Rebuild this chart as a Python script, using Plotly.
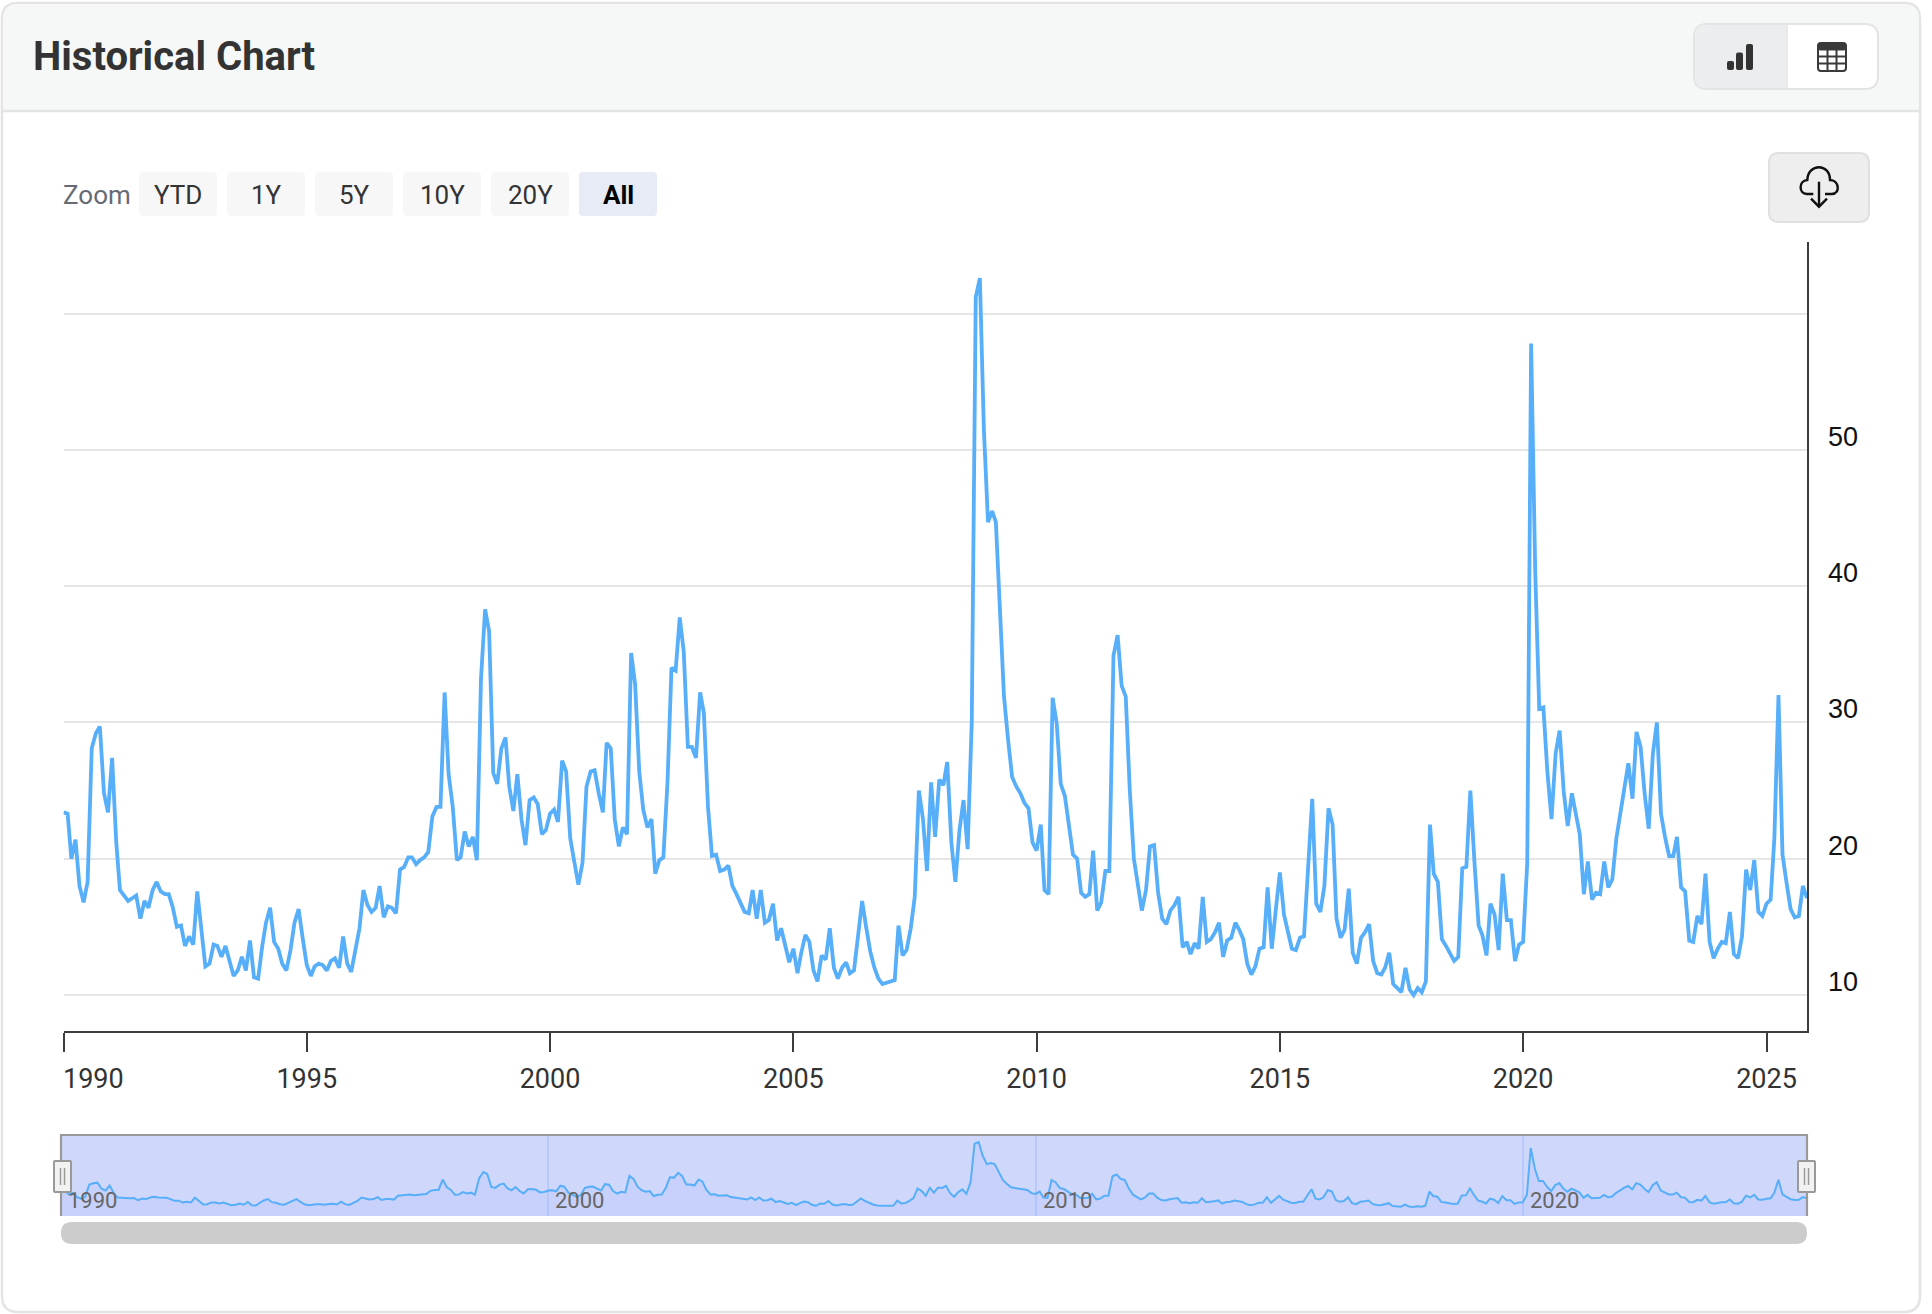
import pandas as pd
import plotly.graph_objects as go

W = 1932
H = 1314

# monthly values
y1990 = [23.4, 23.3, 20.0, 21.4, 18.0, 16.8, 18.3, 28.1, 29.2, 29.7, 24.8, 23.4]
y1991 = [27.4, 21.2, 17.7, 17.3, 16.9, 17.1, 17.3, 15.6, 16.9, 16.4, 17.7, 18.3]
y1992 = [17.6, 17.4, 17.4, 16.4, 15.0, 15.1, 13.6, 14.3, 13.7, 17.6, 14.5, 12.1]
y1993 = [12.3, 13.7, 13.6, 12.8, 13.6, 12.5, 11.4, 11.8, 12.8, 11.8, 14.0, 11.3]
y1994 = [11.2, 13.6, 15.3, 16.4, 13.9, 13.4, 12.3, 11.8, 13.3, 15.3, 16.3, 14.2]
y1995 = [12.2, 11.4, 12.1, 12.3, 12.2, 11.8, 12.5, 12.7, 12.0, 14.3, 12.3, 11.7]
y1996 = [13.3, 14.9, 17.7, 16.6, 16.1, 16.4, 18.0, 15.7, 16.5, 16.4, 16.0, 19.2]
y1997 = [19.4, 20.1, 20.1, 19.6, 19.9, 20.1, 20.5, 23.1, 23.8, 23.8, 32.2, 26.2]
y1998 = [23.8, 19.9, 20.1, 22.0, 20.9, 21.6, 19.9, 33.2, 38.3, 36.7, 26.3, 25.5]
y1999 = [28.1, 28.9, 25.3, 23.5, 26.2, 22.9, 21.0, 24.3, 24.5, 24.0, 21.8, 22.1]
y2000 = [23.3, 23.6, 22.7, 27.2, 26.4, 21.5, 19.8, 18.1, 19.7, 25.3, 26.4, 26.5]
y2001 = [24.8, 23.4, 28.5, 28.1, 22.9, 20.9, 22.3, 21.8, 35.1, 32.8, 26.4, 23.6]
y2002 = [22.3, 22.9, 18.9, 19.9, 20.1, 25.6, 34.0, 33.8, 37.7, 35.2, 28.2, 28.2]
y2003 = [27.4, 32.2, 30.7, 23.8, 20.2, 20.3, 19.1, 19.2, 19.5, 18.0, 17.4, 16.7]
y2004 = [16.1, 16.0, 17.7, 15.6, 17.7, 15.3, 15.5, 16.7, 14.0, 14.9, 13.6, 12.4]
y2005 = [13.4, 11.6, 13.1, 14.4, 13.9, 11.8, 11.0, 12.9, 12.6, 14.9, 12.0, 11.2]
y2006 = [12.0, 12.4, 11.6, 11.8, 14.3, 16.9, 15.0, 13.2, 12.0, 11.2, 10.8, 10.9]
y2007 = [11.0, 11.1, 15.1, 12.9, 13.3, 14.9, 17.2, 25.0, 22.9, 19.1, 25.6, 21.6]
y2008 = [25.8, 25.4, 27.1, 21.2, 18.3, 22.1, 24.3, 20.7, 30.0, 61.2, 62.6, 51.5]
y2009 = [44.7, 45.5, 44.7, 38.3, 31.9, 28.7, 26.0, 25.3, 24.8, 24.1, 23.7, 21.2]
y2010 = [20.6, 22.5, 17.7, 17.4, 31.8, 29.9, 25.5, 24.6, 22.5, 20.3, 20.0, 17.5]
y2011 = [17.2, 17.4, 20.6, 16.2, 16.8, 19.1, 19.1, 34.9, 36.4, 32.7, 31.9, 25.1]
y2012 = [20.0, 18.0, 16.2, 17.7, 20.9, 21.0, 17.5, 15.6, 15.2, 16.2, 16.6, 17.2]
y2013 = [13.5, 13.9, 13.0, 13.8, 13.4, 17.2, 13.9, 14.1, 14.6, 15.3, 12.8, 14.0]
y2014 = [14.2, 15.3, 14.8, 14.1, 12.3, 11.5, 12.1, 13.4, 13.5, 17.9, 13.4, 16.2]
y2015 = [19.0, 15.9, 14.7, 13.4, 13.3, 14.2, 14.3, 19.7, 24.4, 16.7, 16.1, 18.0]
y2016 = [23.7, 22.5, 15.6, 14.2, 14.8, 17.8, 13.1, 12.3, 14.2, 14.6, 15.2, 12.5]
y2017 = [11.6, 11.5, 12.0, 13.1, 10.8, 10.5, 10.2, 12.0, 10.4, 10.0, 10.5, 10.2]
y2018 = [11.0, 22.5, 18.9, 18.3, 14.1, 13.6, 13.1, 12.5, 12.8, 19.3, 19.4, 25.0]
y2019 = [19.7, 15.1, 14.4, 12.9, 16.7, 15.9, 13.3, 18.9, 15.5, 15.5, 12.5, 13.7]
y2020 = [13.9, 19.7, 57.8, 41.0, 31.0, 31.1, 26.4, 22.9, 27.7, 29.4, 24.9, 22.4]
y2021 = [24.8, 23.1, 21.8, 17.4, 19.8, 17.0, 17.5, 17.4, 19.8, 17.9, 18.5, 21.5]
y2022 = [23.4, 25.7, 27.0, 24.4, 29.3, 28.2, 24.8, 22.2, 27.7, 30.0, 23.3, 21.6]
y2023 = [20.2, 20.2, 21.6, 17.9, 17.6, 14.0, 13.9, 15.8, 15.2, 18.9, 13.9, 12.7]
y2024 = [13.4, 13.9, 13.8, 16.1, 13.0, 12.7, 14.3, 19.2, 17.7, 19.9, 16.1, 15.8]
y2025 = [16.7, 17.0, 21.5, 32.0, 20.3, 18.2, 16.3, 15.7, 15.8, 18.0, 17.1]

values = (y1990 + y1991 + y1992 + y1993 + y1994 + y1995 + y1996 + y1997 + y1998 + y1999
          + y2000 + y2001 + y2002 + y2003 + y2004 + y2005 + y2006 + y2007 + y2008 + y2009
          + y2010 + y2011 + y2012 + y2013 + y2014 + y2015 + y2016 + y2017 + y2018 + y2019
          + y2020 + y2021 + y2022 + y2023 + y2024 + y2025)
dates = pd.date_range("1990-01-01", periods=len(values), freq="MS")

x_ticks = ["1990-01-01", "1995-01-01", "2000-01-01", "2005-01-01", "2010-01-01",
           "2015-01-01", "2020-01-01", "2025-01-01"]
x_labels = ["", "1995", "2000", "2005", "2010", "2015", "2020", "2025"]
grid_values = [10, 20, 30, 40, 50, 60]
y_labels = [10, 20, 30, 40, 50]
nav_years = [1990, 2000, 2010, 2020]
zoom_labels = ["YTD", "1Y", "5Y", "10Y", "20Y", "All"]
zoom_left = [139, 227, 315, 403, 491, 579]

BLUE = "#57aef9"
DARK = "#3c3c3c"
ROBOTO = "Roboto"


def px_x(x):
    return x / W


def px_y(y):
    return 1 - y / H


def to_paper(path):
    # path written in page pixels, shapes want paper coordinates
    out = []
    is_x = True
    for part in path.split():
        if part.isalpha():
            out.append(part)
        elif is_x:
            out.append(str(px_x(float(part))))
            is_x = False
        else:
            out.append(str(px_y(float(part))))
            is_x = True
    return " ".join(out)


def round_rect(x0, y0, x1, y1, r):
    return (f"M {x0 + r} {y0} L {x1 - r} {y0} Q {x1} {y0} {x1} {y0 + r} "
            f"L {x1} {y1 - r} Q {x1} {y1} {x1 - r} {y1} "
            f"L {x0 + r} {y1} Q {x0} {y1} {x0} {y1 - r} "
            f"L {x0} {y0 + r} Q {x0} {y0} {x0 + r} {y0} Z")


shapes = []


def add_path(path, fill=None, line=None, width=0, layer="below"):
    shapes.append(dict(type="path", path=to_paper(path), xref="paper", yref="paper",
                       fillcolor=fill or "rgba(0,0,0,0)", layer=layer,
                       line=dict(color=line or "rgba(0,0,0,0)", width=width)))


# card and header
add_path(round_rect(2, 3, 1920, 1312, 16), fill="#ffffff", line="#e4e4e4", width=2.5)
add_path("M 3 111 L 3 19 Q 3 4 19 4 L 1903 4 Q 1919 4 1919 19 L 1919 111 Z", fill="#f6f8f8")
add_path("M 3 111 L 1919 111", line="#e4e4e4", width=2.5)

# chart / table toggle
add_path(round_rect(1694, 24, 1878, 89, 13), fill="#ffffff", line="#e4e4e4", width=2)
add_path("M 1787 25 L 1707 25 Q 1695 25 1695 37 L 1695 76 Q 1695 88 1707 88 L 1787 88 Z", fill="#ebedee")
add_path("M 1787 25 L 1787 88", line="#e4e4e4", width=1.5)
add_path(round_rect(1727, 61, 1734, 70, 2), fill="#333333")
add_path(round_rect(1736, 52.5, 1743, 70, 2), fill="#333333")
add_path(round_rect(1746, 44, 1753, 70, 2), fill="#333333")
add_path(round_rect(1818, 43, 1846, 71, 3), line="#3a3a3a", width=2)
add_path(round_rect(1818, 43, 1846, 50, 2), fill="#3a3a3a", line="#3a3a3a", width=1)
add_path("M 1827.5 50 L 1827.5 71", line="#3a3a3a", width=2)
add_path("M 1836.5 50 L 1836.5 71", line="#3a3a3a", width=2)
add_path("M 1818 56.5 L 1846 56.5", line="#3a3a3a", width=2)
add_path("M 1818 63.5 L 1846 63.5", line="#3a3a3a", width=2)

# download button
add_path(round_rect(1769, 153, 1869, 222, 10), fill="#eeeeee", line="#e0e0e0", width=2)
add_path("M 1813.3 194 L 1806.7 194 C 1799 194 1798 181 1807.3 180 C 1808 163 1830 163 1830 180 "
         "C 1839 180 1841 194 1831.7 194 L 1825 194", line="#111111", width=2.4)
add_path("M 1819 181.7 L 1819 206.7", line="#111111", width=2.4)
add_path("M 1811 198.7 L 1819 206.7 L 1827 198.7", line="#111111", width=2.4)

# zoom buttons
for left, label in zip(zoom_left, zoom_labels):
    fill = "#e6ebf5" if label == "All" else "#f7f7f7"
    add_path(round_rect(left, 172, left + 78, 216, 4), fill=fill)

# navigator and scrollbar
add_path("M 61 1135 L 1807 1135 L 1807 1216 L 61 1216 Z", fill="#cfd8fb")
add_path("M 61 1216 L 61 1135 L 1807 1135 L 1807 1216", line="#999999", width=2.2, layer="above")
add_path(round_rect(61, 1222, 1807, 1244, 11), fill="#cccccc")
for left in [54, 1798]:
    add_path(round_rect(left, 1161, left + 17, 1192, 1), fill="#f2f2f2", line="#999999", width=2, layer="above")
    add_path(f"M {left + 6.5} 1168 L {left + 6.5} 1185", line="#999999", width=1.5, layer="above")
    add_path(f"M {left + 10.5} 1168 L {left + 10.5} 1185", line="#999999", width=1.5, layer="above")

fig = go.Figure()
fig.add_trace(go.Scatter(x=dates, y=values, mode="lines", line=dict(color=BLUE, width=3.8),
                         hoverinfo="x+y", showlegend=False))
fig.add_trace(go.Scatter(x=dates, y=values, mode="lines", xaxis="x2", yaxis="y2",
                         line=dict(color=BLUE, width=2), fill="tozeroy",
                         fillcolor="rgba(170,185,255,0.2)", hoverinfo="skip", showlegend=False))

annotations = [
    dict(text="Historical Chart", x=px_x(31), y=px_y(56), xref="paper", yref="paper", xanchor="left",
         yanchor="middle", showarrow=False, font=dict(family=ROBOTO, size=40, color="#333333", weight="bold")),
    dict(text="Zoom", x=px_x(61), y=px_y(195), xref="paper", yref="paper", xanchor="left",
         yanchor="middle", showarrow=False, font=dict(family=ROBOTO, size=26, color="#666a75")),
    dict(text="1990", x=px_x(61), y=px_y(1079), xref="paper", yref="paper", xanchor="left",
         yanchor="middle", showarrow=False, font=dict(family=ROBOTO, size=27, color="#333333")),
]
for left, label in zip(zoom_left, zoom_labels):
    bold = label == "All"
    annotations.append(dict(text=label, x=px_x(left + 39), y=px_y(195), xref="paper", yref="paper",
                            xanchor="center", yanchor="middle", showarrow=False,
                            font=dict(family=ROBOTO, size=26, color="#000000" if bold else "#333333",
                                      weight="bold" if bold else "normal")))
for v in y_labels:
    annotations.append(dict(text=str(v), x=px_x(1826), y=v, xref="paper", yref="y", yshift=13,
                            xanchor="left", yanchor="middle", showarrow=False,
                            font=dict(family="Liberation Sans", size=27, color="#111111")))
for year in nav_years:
    annotations.append(dict(text=str(year), x=f"{year}-01-01", y=px_y(1200), xref="x2", yref="paper", xshift=5,
                            xanchor="left", yanchor="middle", showarrow=False,
                            font=dict(family=ROBOTO, size=22, color="#666666")))

fig.update_layout(
    width=W, height=H, margin=dict(l=0, r=0, t=0, b=0),
    paper_bgcolor="#ffffff", plot_bgcolor="rgba(0,0,0,0)",
    shapes=shapes, annotations=annotations, showlegend=False,
    xaxis=dict(domain=[px_x(63.5), px_x(1807)], range=["1990-01-01", "2025-11-01"], anchor="y",
               tickmode="array", tickvals=x_ticks, ticktext=x_labels, ticks="outside", ticklen=19,
               tickwidth=2, tickcolor=DARK, showline=True, linecolor=DARK, linewidth=2, showgrid=False,
               zeroline=False, ticklabelstandoff=4, tickfont=dict(family=ROBOTO, size=27, color="#333333")),
    yaxis=dict(domain=[px_y(1031), px_y(242)], range=[7.36, 65.25], anchor="x", side="right",
               tickmode="array", tickvals=grid_values, showticklabels=False, ticks="",
               showline=True, linecolor=DARK, linewidth=2, gridcolor="#e6e6e6", gridwidth=2, zeroline=False),
    xaxis2=dict(domain=[px_x(61), px_x(1807)], range=["1990-01-01", "2025-11-01"], anchor="y2",
                tickmode="array", tickvals=[f"{y}-01-01" for y in nav_years], showticklabels=False, ticks="",
                gridcolor="#b7c9fb", gridwidth=1.5, zeroline=False, showline=False),
    yaxis2=dict(domain=[px_y(1216), px_y(1135)], range=[2.7, 68.3], anchor="x2", visible=False),
)

fig.write_html("out.html", config=dict(displayModeBar=False),
               post_script="document.body.style.margin='0';")
